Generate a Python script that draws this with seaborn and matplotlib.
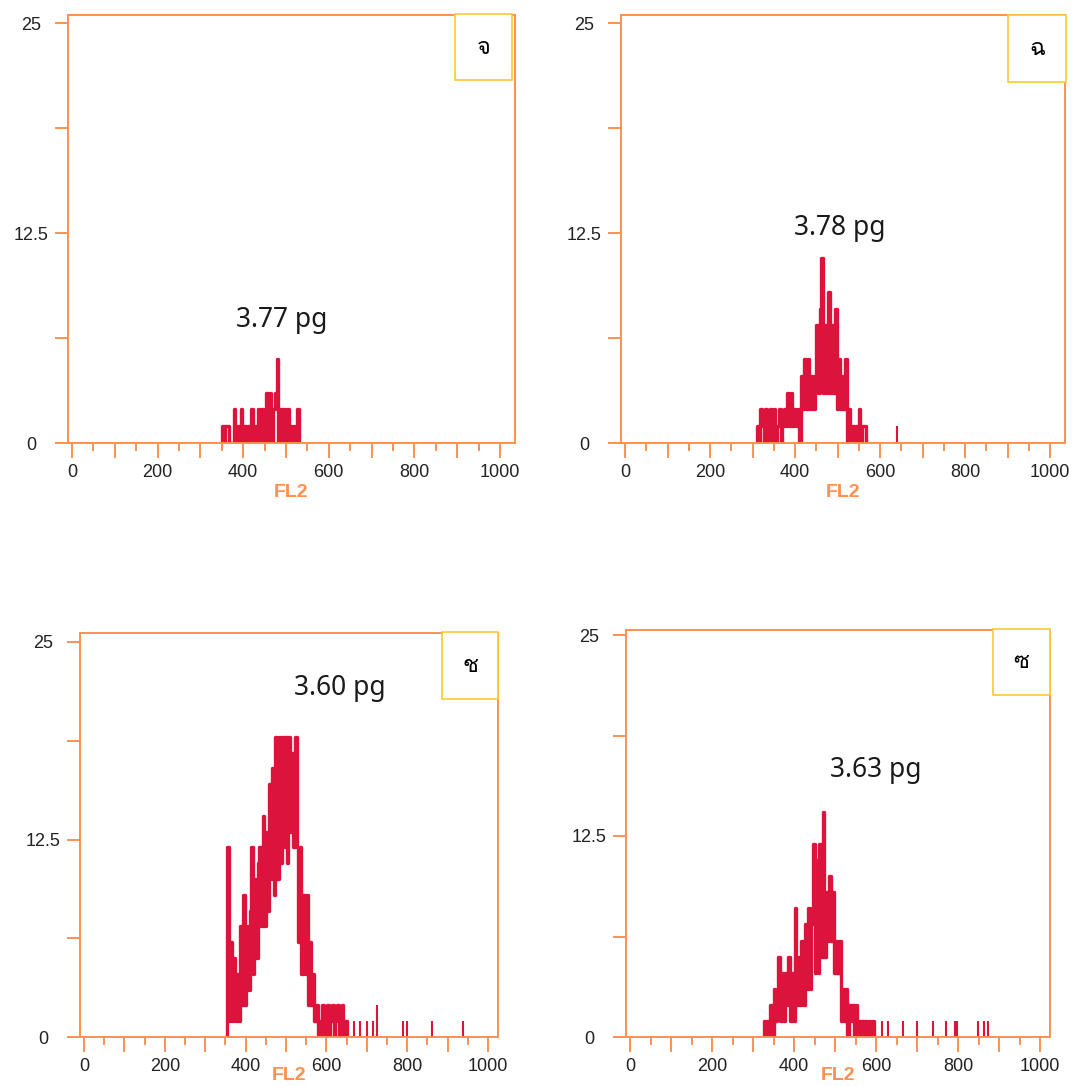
import numpy as np
import matplotlib
matplotlib.use('Agg')
import matplotlib.pyplot as plt
import seaborn as sns
from matplotlib import font_manager
from matplotlib.ft2font import FT2Font
from matplotlib.patches import Rectangle
from matplotlib.ticker import FixedLocator

# ---- data: FL2 histograms (counts per channel) ----
# channel grid step is 4 channels, values alternate like the raw cytometer trace
p1_start = 348
p1_counts = [0, 1, 0, 1, 1, 0, 0, 0, 2, 0, 1, 0, 2, 0, 1, 0, 1, 0, 2, 0,
             1, 0, 2, 0, 2, 0, 2, 3, 0, 3, 0, 2, 3, 5, 0, 2, 0, 2, 0, 2,
             0, 1, 0, 1, 0, 2, 0]
p1_spike_ch = []
p1_spike_n = []

p2_start = 308
p2_counts = [0, 1, 0, 2, 1, 0, 2, 0, 1, 2,
             0, 2, 0, 1, 2, 0, 1, 2, 1, 3,
             1, 3, 1, 2, 1, 2, 0, 4, 2, 5,
             2, 5, 2, 4, 2, 4, 7, 3, 8, 11,
             3, 7, 3, 9, 3, 7, 3, 8, 2, 5,
             2, 4, 2, 5, 0, 2, 0, 1, 0, 1,
             0, 2, 0, 1, 1, 0]
p2_spike_ch = [640]
p2_spike_n = [1]

p3_start = 352
p3_counts = [0, 12, 1, 6, 1, 5, 1, 4, 1, 7,
             2, 9, 2, 7, 3, 8, 12, 4, 10, 5,
             11, 12, 7, 14, 7, 13, 8, 16, 10, 17,
             9, 19, 10, 19, 11, 19, 12, 19, 11, 19,
             13, 18, 12, 19, 12, 6, 12, 4, 9, 4,
             9, 2, 6, 2, 4, 1, 2, 0, 1, 0,
             2, 0, 1, 2, 0, 1, 2, 0, 1, 2,
             0, 1, 2, 0, 1, 0]
p3_spike_ch = [668, 684, 700, 716, 726, 789, 799, 861, 939]
p3_spike_n = [1, 1, 1, 1, 2, 1, 1, 1, 1]

p4_start = 324
p4_counts = [0, 1, 0, 1, 0, 2, 0, 3, 1, 2,
             5, 1, 4, 1, 4, 2, 5, 1, 4, 1,
             8, 2, 5, 2, 6, 2, 7, 3, 8, 3,
             7, 12, 4, 11, 4, 12, 5, 14, 5, 9,
             6, 10, 6, 9, 4, 6, 4, 6, 1, 3,
             1, 3, 0, 2, 1, 2, 0, 2, 0, 1,
             0, 1, 0, 1, 0, 1, 0, 1, 0]
p4_spike_ch = [614, 630, 667, 701, 740, 771, 793, 797, 849, 863, 874]
p4_spike_n = [1, 1, 1, 1, 1, 1, 1, 1, 1, 1, 1]

dna_labels = ['3.77 pg', '3.78 pg', '3.60 pg', '3.63 pg']
panel_letters = ['จ', 'ฉ', 'ช', 'ซ']

# ---- style ----
RED = '#DC143C'
ORANGE = '#FF9050'
GOLD = '#FFC830'

sns.set_style('white')
plt.rcParams['font.family'] = ['Liberation Sans', 'DejaVu Sans']

# look for some installed font that has thai letters
thai_font = None
for f in font_manager.fontManager.ttflist:
    try:
        if 0x0E08 in FT2Font(f.fname).get_charmap():
            thai_font = f.name
            break
    except Exception:
        continue
letter_family = [thai_font, 'DejaVu Sans'] if thai_font else ['DejaVu Sans']

W, H = 1075, 1086
fig = plt.figure(figsize=(W / 100, H / 100), dpi=100)

XMIN = -10

# pixel placement: x of channel 0, px per channel, y of count 0, px per count
layout = [(72, 0.428, 443, 16.8),
          (625, 0.425, 443, 16.8),
          (84, 0.404, 1037, 15.8),
          (630, 0.410, 1037, 16.08)]
xmax_list = [1035, 1035, 1025, 1024]
ymax_list = [25.5, 25.5, 25.55, 25.3]
boxes = [(455, 14, 512, 80), (1008, 15, 1066, 82),
         (442, 632, 498, 699), (993, 629, 1050, 695)]
label_pos = [(490, 7.3), (506, 12.8), (634, 22.1), (600, 16.6)]
xlabel_pad = [2, 2, -6, -6]

series = [(p1_start, p1_counts, p1_spike_ch, p1_spike_n),
          (p2_start, p2_counts, p2_spike_ch, p2_spike_n),
          (p3_start, p3_counts, p3_spike_ch, p3_spike_n),
          (p4_start, p4_counts, p4_spike_ch, p4_spike_n)]

for i, (start, counts, sp_ch, sp_n) in enumerate(series):
    x0, sx, y0, sy = layout[i]
    left = x0 + XMIN * sx
    right = x0 + xmax_list[i] * sx
    top = y0 - ymax_list[i] * sy
    ax = fig.add_axes([left / W, 1 - y0 / H, (right - left) / W, (y0 - top) / H])

    ch = np.arange(start, start + 4 * len(counts), 4)
    sns.lineplot(x=ch, y=counts, ax=ax, color=RED, linewidth=2.4,
                 estimator=None, sort=False, drawstyle='steps-mid')
    if sp_ch:
        ax.vlines(sp_ch, 0, sp_n, color=RED, linewidth=1.5)

    ax.set_xlim(XMIN, xmax_list[i])
    ax.set_ylim(0, ymax_list[i])

    # axes frame and ticks in orange
    for s in ax.spines.values():
        s.set_color(ORANGE)
        s.set_linewidth(1.4)
        s.set_visible(True)
    ax.xaxis.set_major_locator(FixedLocator(list(range(0, 1001, 100))))
    ax.set_xticklabels([str(v) if v % 200 == 0 else '' for v in range(0, 1001, 100)])
    ax.xaxis.set_minor_locator(FixedLocator(list(range(50, 1000, 100))))
    ax.yaxis.set_major_locator(FixedLocator([0, 12.5, 25]))
    ax.set_yticklabels(['0', '12.5', '25'])
    ax.yaxis.set_minor_locator(FixedLocator([6.25, 18.75]))
    ax.tick_params(axis='x', which='both', bottom=True, top=False)
    ax.tick_params(axis='y', which='both', left=True, right=False)
    ax.tick_params(axis='x', which='major', direction='out', length=11, width=1.4,
                   color=ORANGE, labelsize=13, labelcolor='#222222', pad=4)
    ax.tick_params(axis='x', which='minor', direction='out', length=6, width=1.4,
                   color=ORANGE)
    ax.tick_params(axis='y', which='both', direction='out', length=9.5, width=1.4,
                   color=ORANGE, labelsize=13, labelcolor='#222222', pad=17)
    for lab in ax.get_yticklabels():
        lab.set_horizontalalignment('center')
    ax.set_xlabel('FL2', color=ORANGE, fontsize=14, fontweight='bold',
                  labelpad=xlabel_pad[i])
    ax.set_ylabel('')

    ax.text(label_pos[i][0], label_pos[i][1], dna_labels[i], ha='center', va='center',
            fontsize=19, family=['Noto Sans', 'DejaVu Sans'], color='#1a1a1a')

    # small yellow box with the thai letter, top right
    l, t, r, b = boxes[i]
    fig.add_artist(Rectangle((l / W, 1 - b / H), (r - l) / W, (b - t) / H,
                             transform=fig.transFigure, facecolor='white',
                             edgecolor=GOLD, linewidth=1.2, zorder=5))
    fig.text((l + r) / 2 / W, 1 - (t + b) / 2 / H, panel_letters[i], ha='center',
             va='center', fontsize=17, family=letter_family, color='black', zorder=6)

fig.savefig('out.png', dpi=100)
